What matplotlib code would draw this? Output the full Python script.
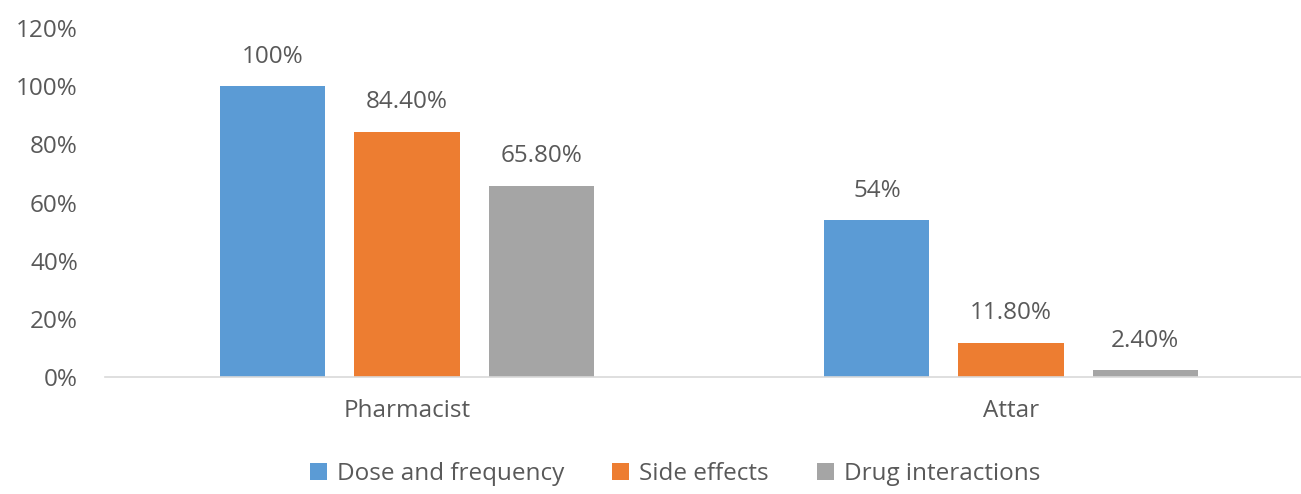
import matplotlib
matplotlib.use("Agg")
import matplotlib.pyplot as plt
import numpy as np

categories = ["Pharmacist", "Attar"]
series_names = ["Dose and frequency", "Side effects", "Drug interactions"]
dose = [100.0, 54.0]
side = [84.4, 11.8]
drug = [65.8, 2.4]
labels_dose = ["100%", "54%"]
labels_side = ["84.40%", "11.80%"]
labels_drug = ["65.80%", "2.40%"]
yticks = [0, 20, 40, 60, 80, 100, 120]

colors = ["#5B9BD5", "#ED7D31", "#A5A5A5"]
text_color = "#595959"

plt.rcParams["font.family"] = ["Open Sans", "DejaVu Sans"]

fig = plt.figure(figsize=(13.01, 4.94), dpi=100)
ax = fig.add_axes([0.0807, 0.2368, 0.9285, 0.7065])

x = np.arange(len(categories))
width = 0.174
step = 0.222
for i, (vals, labs) in enumerate(zip([dose, side, drug], [labels_dose, labels_side, labels_drug])):
    pos = x + (i - 1) * step
    bars = ax.bar(pos, vals, width=width, color=colors[i], label=series_names[i], zorder=2)
    for b, lab in zip(bars, labs):
        ax.annotate(lab, (b.get_x() + b.get_width() / 2, b.get_height()),
                    xytext=(0, 12.5), textcoords="offset points",
                    ha="center", va="bottom", fontsize=17.5, color=text_color)

ax.set_xlim(-0.5, 1.5)
ax.set_ylim(0, 120)
ax.set_yticks(yticks)
ax.set_yticklabels([f"{t}%" for t in yticks])
ax.set_xticks(x)
ax.set_xticklabels(categories)
ax.tick_params(axis="y", length=0, pad=19.5, labelsize=17.5, labelcolor=text_color)
ax.tick_params(axis="x", length=0, pad=16, labelsize=17.5, labelcolor=text_color)
for s in ["top", "right", "left"]:
    ax.spines[s].set_visible(False)
ax.spines["bottom"].set_color("#D9D9D9")
ax.spines["bottom"].set_linewidth(1.2)

leg = fig.legend(loc="lower center", bbox_to_anchor=(0.519, -0.028), ncol=3,
                 frameon=False, fontsize=17.5, handlelength=0.7, handleheight=0.7,
                 columnspacing=2.0, handletextpad=0.4)
for t in leg.get_texts():
    t.set_color(text_color)

fig.savefig("out.png", dpi=100)
